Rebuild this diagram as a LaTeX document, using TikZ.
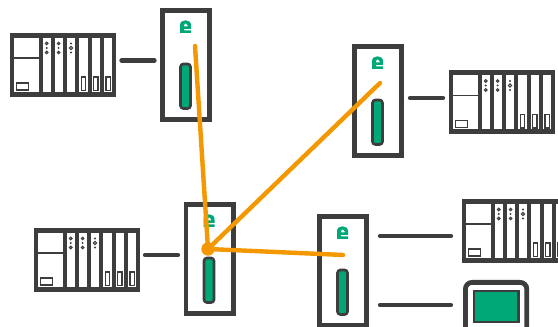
\documentclass[tikz,border=0pt]{standalone}
\definecolor{dk}{HTML}{3D3D3D}
\definecolor{grn}{HTML}{00A878}
\definecolor{org}{HTML}{F39800}
\tikzset{
  x=0.75pt,y=-0.75pt,
  link/.style={draw=dk,line width=3.2pt,line cap=round},
  ray/.style={draw=org,line width=3.3pt,line cap=round},
  hub/.style={circle,fill=org,inner sep=0pt,minimum size=10pt},
  ledring/.style={draw=dk,line width=0.8pt,fill=white},
  gateway/.pic={
    \draw[dk,line width=3.6pt,fill=white] (2.4,2.4) rectangle (49.6,111.6);
    \draw[dk,line width=2pt,fill=grn,rounded corners=2.2pt] (20.5,56) rectangle (30.5,100.5);
    \fill[grn,even odd rule] (20,25) -- (20,17.5) .. controls (20,14) and (22,12.5) .. (25,12.5) -- (26,12.5) .. controls (29,12.5) and (31,14) .. (31,17.5) -- (31,20.8) -- (24,20.8) -- (24,22.4) -- (31,22.4) -- (31,25) -- cycle
      (24,18.4) -- (27.5,18.4) -- (27.5,17) .. controls (27.5,15.8) and (26.8,15.3) .. (25.7,15.3) .. controls (24.6,15.3) and (24,15.8) .. (24,17) -- cycle;
  },
  rack/.pic={
    \fill[dk] (0,0) rectangle (106,64);
    \fill[white] (4,5) rectangle (29,59);
    \fill[dk] (4,24.2) rectangle (29,25.8);
    \draw[dk,line width=0.9pt] (6.5,50) rectangle (18.5,57);
    \foreach \a/\b in {33/40.5,44.5/52.7,57/65.3,69.3/77.7,81.7/90,94/102.3}{
      \fill[white] (\a,5) rectangle (\b,59);
    }
    \foreach \c in {36.7,48.6}{
      \path[ledring] (\c,10.5) circle[radius=1.3];
      \fill[dk] (\c,15) circle[radius=1.1];
      \path[ledring] (\c,19.5) circle[radius=1.3];
    }
    \fill[dk] (61,10.5) circle[radius=1.1];
    \path[ledring] (61,15) circle[radius=1.6];
    \fill[dk] (61,19.5) circle[radius=1.1];
    \foreach \c in {73.5,85.8,98.1}{
      \draw[dk,line width=0.9pt] (\c-2.2,44) rectangle (\c+2.2,57.5);
    }
  },
}
\begin{document}
\begin{tikzpicture}
\useasboundingbox (0,0) rectangle (558,327);
\begin{scope}
\clip (0,0) rectangle (558,327);
\pic at (10,33) {rack};
\pic at (449,70.5) {rack};
\pic at (34,228) {rack};
\pic at (462,199) {rack};
\pic at (160,8) {gateway};
\pic at (352,44) {gateway};
\pic at (183.5,202) {gateway};
\pic at (317,214) {gateway};
% monitor
\draw[dk,line width=3.6pt,fill=white,rounded corners=5pt] (465.4,282.4) rectangle (526.8,345);
\draw[dk,line width=1.6pt,fill=grn] (474,291) rectangle (518.5,322);
\end{scope}
\coordinate (r1) at (121.5,60.5); \coordinate (g1) at (154.5,60.5);
\coordinate (r2) at (443,98); \coordinate (g2) at (410,98);
\coordinate (r3) at (145,255); \coordinate (g3) at (178,255);
\coordinate (r4) at (451,236); \coordinate (g4a) at (380,236);
\coordinate (m) at (451,305); \coordinate (g4b) at (380,305);
\draw[link] (r1) -- (g1);
\draw[link] (g2) -- (r2);
\draw[link] (r3) -- (g3);
\draw[link] (g4a) -- (r4);
\draw[link] (g4b) -- (m);
\node[hub] (h) at (208,249) {};
\coordinate (a) at (195,46);
\coordinate (b) at (380,83);
\coordinate (c) at (343,255);
\draw[ray] (h.center) -- (a);
\draw[ray] (h.center) -- (b);
\draw[ray] (h.center) -- (c);
\end{tikzpicture}
\end{document}
